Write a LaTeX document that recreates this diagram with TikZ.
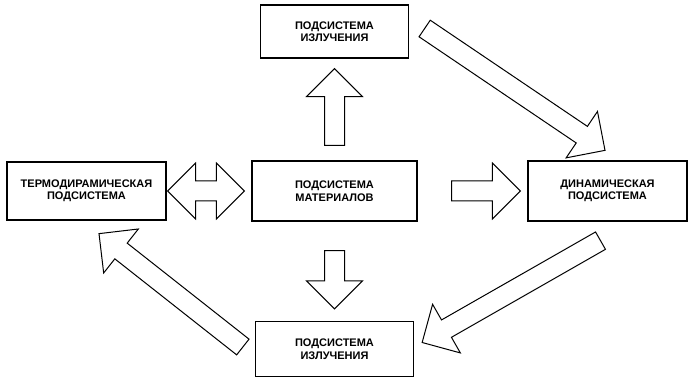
\documentclass[tikz,border=0pt]{standalone}
\usepackage{fontspec}
\setmainfont{Liberation Sans}
\usetikzlibrary{positioning, calc}

\newcommand{\shaftw}{10pt}
\newcommand{\headw}{28pt}
\newcommand{\headlen}{28pt}

% hollow block arrow from #1 to #2
\newcommand{\blockarrow}[2]{%
  \draw[barrow] let \p1=#1, \p2=#2,
    \n1={atan2(\y2-\y1,\x2-\x1)},
    \n2={veclen(\x2-\x1,\y2-\y1)-\headlen} in
    ($(\p1)+(\n1+90:\shaftw)$) -- ($(\p1)+(\n1:\n2)+(\n1+90:\shaftw)$)
    -- ($(\p1)+(\n1:\n2)+(\n1+90:\headw)$) -- (\p2)
    -- ($(\p1)+(\n1:\n2)+(\n1-90:\headw)$) -- ($(\p1)+(\n1:\n2)+(\n1-90:\shaftw)$)
    -- ($(\p1)+(\n1-90:\shaftw)$) -- cycle;}

% hollow block arrow with two heads
\newcommand{\dblarrow}[2]{%
  \draw[barrow] let \p1=#1, \p2=#2,
    \n1={atan2(\y2-\y1,\x2-\x1)},
    \n2={veclen(\x2-\x1,\y2-\y1)-\headlen} in
    (\p1) -- ($(\p1)+(\n1:\headlen)+(\n1+90:\headw)$)
    -- ($(\p1)+(\n1:\headlen)+(\n1+90:\shaftw)$) -- ($(\p1)+(\n1:\n2)+(\n1+90:\shaftw)$)
    -- ($(\p1)+(\n1:\n2)+(\n1+90:\headw)$) -- (\p2)
    -- ($(\p1)+(\n1:\n2)+(\n1-90:\headw)$) -- ($(\p1)+(\n1:\n2)+(\n1-90:\shaftw)$)
    -- ($(\p1)+(\n1:\headlen)+(\n1-90:\shaftw)$) -- ($(\p1)+(\n1:\headlen)+(\n1-90:\headw)$)
    -- cycle;}

\tikzset{
  box/.style={draw, line width=1.3pt, align=center, inner sep=2pt,
    font=\bfseries\fontsize{11}{12.5}\selectfont},
  barrow/.style={draw, line width=1pt, line join=miter, fill=white}
}

\begin{document}
\begin{tikzpicture}[x=1pt,y=1pt,on grid]
   \useasboundingbox (0,0) rectangle (690,380);

   \node[box, minimum width=165pt, minimum height=60pt] (mat) at (334.5,189)
        {ПОДСИСТЕМА\\МАТЕРИАЛОВ};
   \node[box, minimum width=148pt, minimum height=53pt] (rad_1) [above=159.5pt of mat]
        {ПОДСИСТЕМА\\ИЗЛУЧЕНИЯ};
   \node[box, minimum width=158pt, minimum height=55pt] (rad_2) [below=158pt of mat]
        {ПОДСИСТЕМА\\ИЗЛУЧЕНИЯ};
   \node[box, minimum width=159pt, minimum height=58pt] (therm) [left=248pt of mat]
        {ТЕРМОДИРАМИЧЕСКАЯ\\ПОДСИСТЕМА};
   \node[box, minimum width=159pt, minimum height=60pt] (dyn) [right=273pt of mat]
        {ДИНАМИЧЕСКАЯ\\ПОДСИСТЕМА};

   \blockarrow{($(mat.north)!15pt!(rad_1.south)$)}{($(rad_1.south)!10pt!(mat.north)$)}
   \blockarrow{($(mat.south)!29pt!(rad_2.north)$)}{($(rad_2.north)!12pt!(mat.south)$)}
   \blockarrow{($(mat.east)!34pt!(dyn.west)$)}{($(dyn.west)!7pt!(mat.east)$)}
   \dblarrow{($(therm.east)!1pt!(mat.west)$)}{($(mat.west)!7pt!(therm.east)$)}

   \blockarrow{($(rad_1.east)+(15.5,3)$)}{($(dyn.north)+(-2.5,10)$)}
   \blockarrow{($(dyn.south)+(-7,-19)$)}{($(rad_2.east)+(8,6.5)$)}
   \blockarrow{($(rad_2.west)+(-12,2)$)}{($(therm.south)+(12.5,-13)$)}
\end{tikzpicture}
\end{document}
